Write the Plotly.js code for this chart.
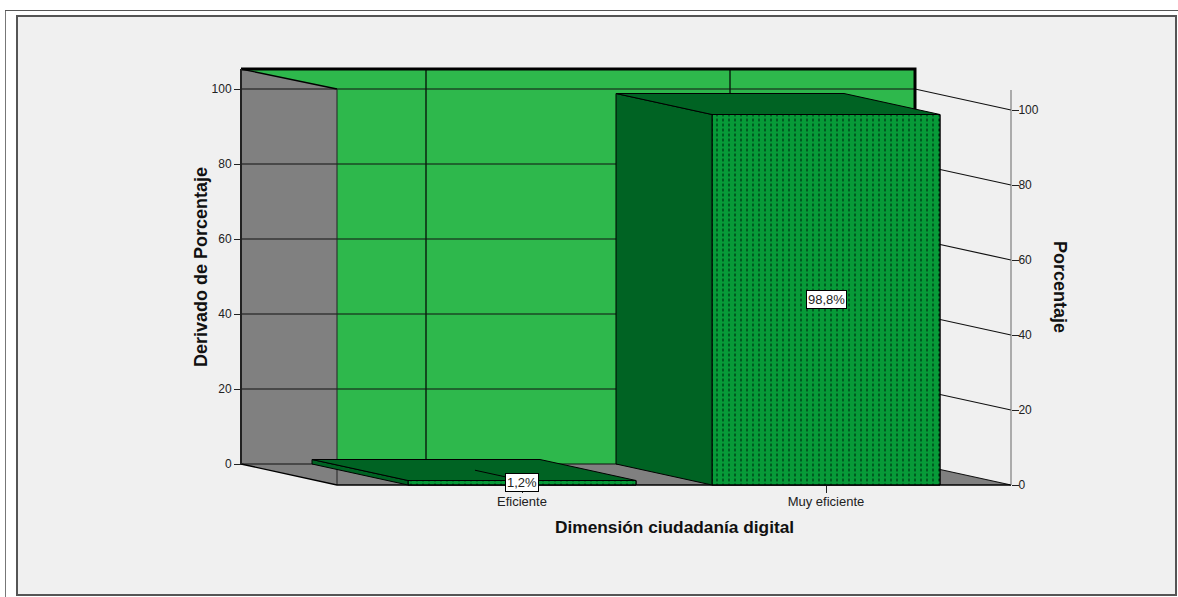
<!DOCTYPE html>
<html>
<head>
<meta charset="utf-8">
<script src="https://cdn.plot.ly/plotly-3.0.1.min.js"></script>
<style>html,body{margin:0;padding:0;background:#fff}</style>
</head>
<body>
<div id="chart" style="width:1178px;height:597px"></div>
<script>
// ---- data ----
const categories = ["Eficiente", "Muy eficiente"];
const categoryPositions = [0, 1];
const percentages = [1.2, 98.8];
const percentageLabels = ["1,2%", "98,8%"];
const tickValues = [0, 20, 40, 60, 80, 100];
const axisTop = 105.33;

// ---- oblique projection set up, in axis units ----
const W = 1178, H = 597;
const unitX = 304, unitY = 3.75;
const originX = 522, frontZeroY = 485, backZeroY = 464;
const depthX = 96 / unitX, depthY = (frontZeroY - backZeroY) / unitY;
const floorLeft = (337 - originX) / unitX, floorRight = (1011 - originX) / unitX;
const barWidth = 0.75;

const black = "#000000", grey = "#808080", wall = "#2eb84c";
const barFront = "#079a38", barDark = "#006323";

const traces = [];
function poly(xs, ys, fill, yaxis, lineW, lineC) {
  const t = {type: "scatter", mode: "lines", x: xs, y: ys, yaxis: yaxis, xaxis: "x", hoverinfo: "skip",
    line: {color: lineC || black, width: lineW === undefined ? 1 : lineW}, showlegend: false};
  if (fill) { t.fill = "toself"; t.fillcolor = fill; }
  traces.push(t);
}
// ---- back plane frame: y axis coordinates (value on the rear wall) ----
const bl = floorLeft - depthX, br = floorRight - depthX;
poly([bl, br, br, bl, bl], [axisTop, axisTop, 0, 0, axisTop], wall, "y", 0);
poly([bl, floorLeft, floorLeft, bl, bl], [axisTop, 100, -depthY, 0, axisTop], grey, "y", 0);
poly([bl, floorLeft, floorRight, br, bl], [0, -depthY, -depthY, 0, 0], grey, "y", 0);
categoryPositions.forEach(c => poly([c - depthX, c - depthX], [0, axisTop], null, "y", 1.2));
tickValues.forEach(v => poly([bl, br, floorRight], [v, v, v - depthY], null, "y", 1.2, "#111"));
poly([bl, floorLeft], [axisTop, 100], null, "y", 1.3);
poly([floorLeft, floorLeft], [100, -depthY], null, "y", 1, "#222");
poly([bl, floorLeft, floorRight], [0, -depthY, -depthY], null, "y", 1.3);
poly([bl, br, br], [axisTop, axisTop, 0], null, "y", 3);
poly([bl, bl], [axisTop, 0], null, "y", 2, "#222");

// ---- bars: front plane, y2 axis ----
traces.push({type: "bar", x: categoryPositions, y: percentages, width: barWidth, yaxis: "y2", xaxis: "x",
  hoverinfo: "skip", showlegend: false,
  marker: {color: barFront, line: {color: black, width: 1},
    pattern: {shape: "|", fgcolor: "#00541e", bgcolor: barFront, size: 6, solidity: 0.3, fillmode: "replace"}}});
traces.push({type: "bar", x: categoryPositions, y: percentages, width: barWidth, yaxis: "y2", xaxis: "x",
  hoverinfo: "skip", showlegend: false,
  marker: {color: "rgba(0,0,0,0)", line: {color: black, width: 1},
    pattern: {shape: "-", fgcolor: barFront, bgcolor: "rgba(0,0,0,0)", size: 5, solidity: 0.42, fillmode: "replace"}}});
categoryPositions.forEach((c, i) => {
  const v = percentages[i], L = c - barWidth / 2, R = c + barWidth / 2;
  poly([L - depthX, L, L, L - depthX, L - depthX], [v + depthY, v, 0, depthY, v + depthY], barDark, "y2", 1);
  poly([L - depthX, R - depthX, R, L, L - depthX], [v + depthY, v + depthY, v, v, v + depthY], barDark, "y2", 1);
});
// floor line that runs over the low bar's top
poly([categoryPositions[0] - depthX * 0.49, categoryPositions[0] - depthX * 0.1],
     [percentages[0] + depthY * 0.49, percentages[0] + depthY * 0.1], null, "y2", 1);
// right axis line
poly([floorRight, floorRight], [0, axisTop], null, "y2", 1, "#666");

const px = v => v / W, py = v => 1 - v / H;
const shapes = [
  {type: "line", xref: "paper", yref: "paper", x0: px(5.5), x1: px(5.5), y0: py(10), y1: 0, line: {color: "#777", width: 1}, layer: "below"},
  {type: "line", xref: "paper", yref: "paper", x0: px(5), x1: 1, y0: py(10.5), y1: py(10.5), line: {color: "#555", width: 1}, layer: "below"},
  {type: "rect", xref: "paper", yref: "paper", x0: px(17), x1: px(1176), y0: py(16), y1: py(595), fillcolor: "#f0f0f0", line: {color: "#555", width: 2}, layer: "below"}
];

const annotations = categoryPositions.map((c, i) => ({
  x: c, y: percentages[i] / 2, xref: "x", yref: "y2", text: percentageLabels[i], showarrow: false,
  bgcolor: "#ffffff", bordercolor: "#000000", borderwidth: 1, borderpad: 1,
  xanchor: "center", yanchor: "middle",
  font: {family: "Liberation Sans, Arial, sans-serif", size: 13, color: "#222"}
}));
const titleFontX = {family: "Liberation Sans, Arial, sans-serif", size: 17.3, color: "#111"};
const titleFontY = {family: "Liberation Sans, Arial, sans-serif", size: 18, color: "#111"};
const titleBase = {xref: "paper", yref: "paper", showarrow: false, xanchor: "center", yanchor: "middle"};
annotations.push(
  Object.assign({}, titleBase, {x: px(674.5), y: py(527), text: "<b>Dimensión ciudadanía digital</b>", font: titleFontX}),
  Object.assign({}, titleBase, {x: px(201), y: py(267), text: "<b>Derivado de Porcentaje</b>", textangle: -90, font: titleFontY}),
  Object.assign({}, titleBase, {x: px(1060), y: py(287), text: "<b>Porcentaje</b>", textangle: 90, font: titleFontY})
);

const tickFont = {family: "Liberation Sans, Arial, sans-serif", size: 12, color: "#222"};
const xTickFont = {family: "Liberation Sans, Arial, sans-serif", size: 13, color: "#222"};
const layout = {
  width: W, height: H, showlegend: false, barmode: "overlay",
  margin: {l: 0, r: 0, t: 0, b: 0, pad: 0},
  paper_bgcolor: "#ffffff", plot_bgcolor: "rgba(0,0,0,0)",
  shapes: shapes, annotations: annotations,
  xaxis: {type: "linear", domain: [0, 1], range: [-originX / unitX, (W - originX) / unitX],
    anchor: "free", position: (H - frontZeroY) / H, side: "bottom",
    tickmode: "array", tickvals: categoryPositions, ticktext: categories, ticklabelstandoff: -3,
    ticks: "outside", ticklen: 7, tickcolor: "#222", tickfont: xTickFont,
    showgrid: false, zeroline: false, showline: false, fixedrange: true},
  yaxis: {type: "linear", domain: [0, 1], range: [(backZeroY - H) / unitY, backZeroY / unitY],
    anchor: "free", position: (originX - depthX * unitX + floorLeft * unitX) / W, side: "left",
    tickmode: "array", tickvals: tickValues, ticks: "outside", ticklen: 7, tickcolor: "#222", tickfont: tickFont,
    showgrid: false, zeroline: false, showline: false, fixedrange: true},
  yaxis2: {type: "linear", domain: [0, 1], range: [(frontZeroY - H) / unitY, frontZeroY / unitY],
    overlaying: "y", anchor: "free", position: (originX + floorRight * unitX) / W, side: "right",
    tickmode: "array", tickvals: tickValues, ticks: "outside", ticklen: 7, ticklabelstandoff: -3, tickcolor: "#222", tickfont: tickFont,
    showgrid: false, zeroline: false, showline: false, fixedrange: true}
};
Plotly.newPlot("chart", traces, layout, {displayModeBar: false, staticPlot: true});
</script>
</body>
</html>
